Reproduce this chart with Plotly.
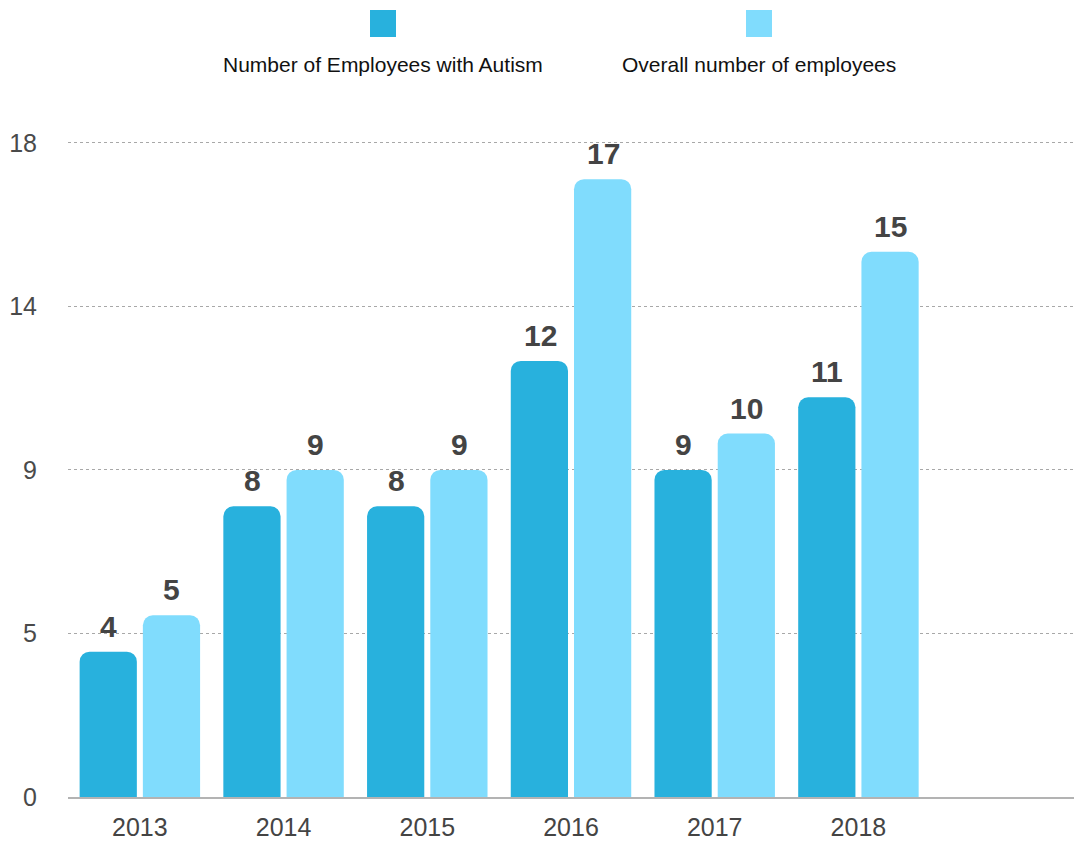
import plotly.graph_objects as go

years = ["2013", "2014", "2015", "2016", "2017", "2018", " "]
autism = [4, 8, 8, 12, 9, 11, None]
overall = [5, 9, 9, 17, 10, 15, None]
series_names = ["Number of Employees with Autism", "Overall number of employees"]
ytick_vals = [0, 4.5, 9, 13.5, 18]
ytick_text = ["0", "5", "9", "14", "18"]

DARK = "#28b1dd"
LIGHT = "#80dcfd"
TXT = "#444444"
FONT = "Liberation Sans, Arial, Helvetica, sans-serif"

W, H = 1074, 841
ML, MR, MT, MB = 68, 0, 141, 44
PW, PH = W - ML - MR, H - MT - MB

fig = go.Figure()
fig.add_trace(go.Bar(x=years, y=autism, name=series_names[0], marker_color=DARK,
                     marker_line_width=0, hoverinfo="x+y"))
fig.add_trace(go.Bar(x=years, y=overall, name=series_names[1], marker_color=LIGHT,
                     marker_line_width=0, hoverinfo="x+y"))

annotations = []
for vals, shift in ((autism, -31), (overall, 32)):
    for i, v in enumerate(vals):
        if v is None:
            continue
        annotations.append(dict(x=i, y=v, xref="x", yref="y", text="<b>%d</b>" % v, showarrow=False,
                                xshift=shift, yanchor="bottom", yshift=7,
                                font=dict(family=FONT, size=30, color=TXT)))

def px(x):
    return (x - ML) / PW

def py(y):
    return (H - MB - y) / PH

shapes = []
for (x0, col), name in zip(((370, DARK), (746, LIGHT)), series_names):
    shapes.append(dict(type="rect", xref="paper", yref="paper", x0=px(x0), x1=px(x0 + 26),
                       y0=py(37), y1=py(10), fillcolor=col, line_width=0))
    annotations.append(dict(x=px(x0 + 13), y=py(65), xref="paper", yref="paper", text=name,
                            showarrow=False, xanchor="center", yanchor="middle",
                            font=dict(family=FONT, size=21, color="#111111")))

fig.update_layout(
    width=W, height=H,
    margin=dict(l=ML, r=MR, t=MT, b=MB, pad=0, autoexpand=False),
    paper_bgcolor="white", plot_bgcolor="white",
    barmode="group", bargap=0.12, bargroupgap=0.095,
    showlegend=False,
    shapes=shapes, annotations=annotations,
    font=dict(family=FONT),
)
fig.update_traces(marker_cornerradius=10)
fig.update_xaxes(type="category", range=[-0.5, 6.5], showgrid=False, zeroline=False,
                 showline=True, linecolor="#b3b3b3", linewidth=2, ticks="",
                 tickfont=dict(family=FONT, size=25, color=TXT), ticklabelstandoff=7,
                 automargin=False, fixedrange=True)
fig.update_yaxes(range=[0, 18.05], tickvals=ytick_vals, ticktext=ytick_text,
                 showgrid=True, gridcolor="#a8a8a8", gridwidth=1, griddash="3px,3px",
                 zeroline=False, showline=False, ticks="",
                 tickfont=dict(family=FONT, size=25, color="#4a4a4a"), ticklabelstandoff=30,
                 automargin=False, fixedrange=True)

fig.write_html("out.html")
